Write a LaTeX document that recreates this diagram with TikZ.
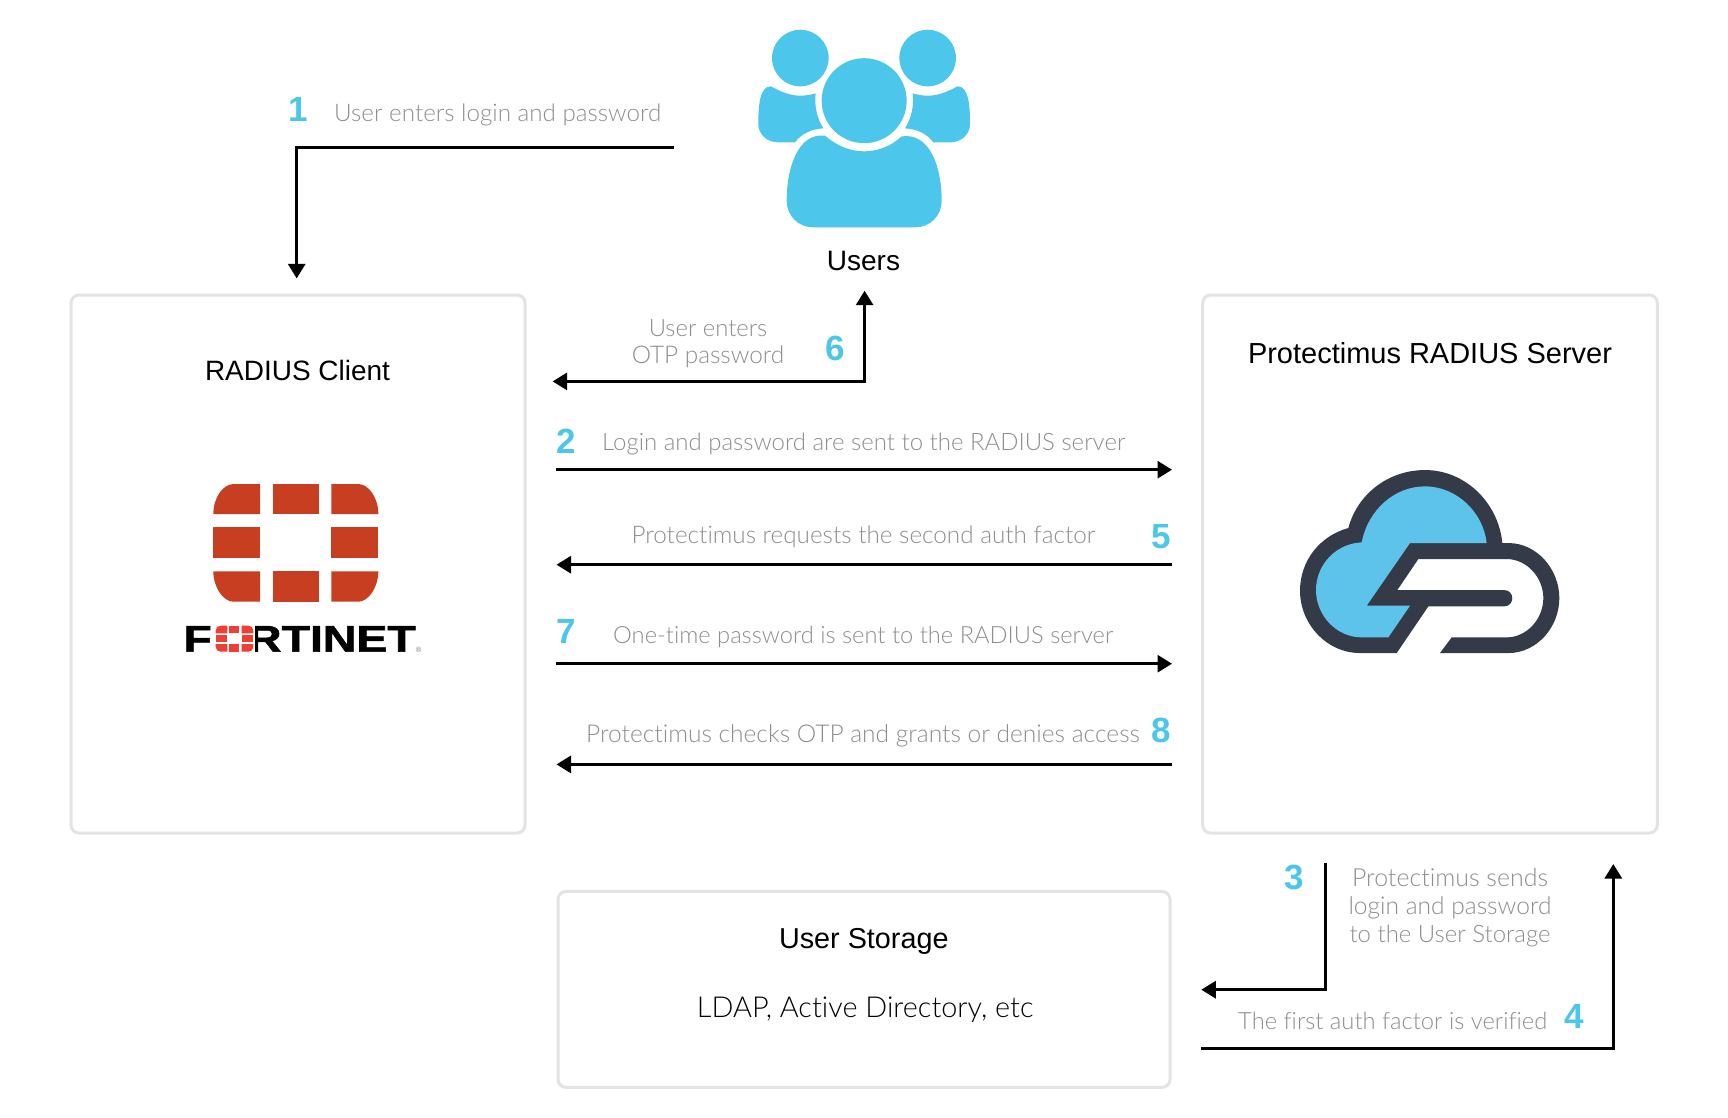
\documentclass[tikz,border=0pt]{standalone}
\usepackage{graphicx}
\usepackage{fontspec}
\usetikzlibrary{arrows.meta}
\setmainfont{Liberation Sans}
\newfontfamily\lightface[Ligatures=NoCommon]{Lato Light}
\newfontfamily\heavyface[FakeBold=1.3]{Liberation Sans Bold}
\newcommand{\fitw}[2]{\resizebox{#1pt}{!}{#2}}
\definecolor{brandblue}{HTML}{4CC6EA}
\definecolor{cloudblue}{HTML}{5DC3EA}
\definecolor{clouddark}{HTML}{353A48}
\definecolor{fortired}{HTML}{C83E20}
\definecolor{fortilight}{HTML}{EE3F34}
\definecolor{boxline}{HTML}{E5E2E2}
\definecolor{greytext}{HTML}{8E8E8E}
\tikzset{
  panel/.style={draw=boxline,line width=3pt,rounded corners=8pt,fill=white,inner sep=0pt},
  title/.style={inner sep=0pt,anchor=base,text=black,font=\fontsize{29}{34}\selectfont},
  lighttitle/.style={inner sep=0pt,anchor=base,text=black,font=\lightface\fontsize{29}{34}\selectfont},
  grey/.style={inner sep=0pt,anchor=base west,text=greytext,font=\lightface\fontsize{23.5}{27.7}\selectfont},
  greyblock/.style={inner sep=0pt,anchor=base,align=center,text=greytext,font=\lightface\fontsize{23.5}{27.7}\selectfont},
  num/.style={inner sep=0pt,anchor=base,text=brandblue,font=\bfseries\fontsize{35}{40}\selectfont},
  flow/.style={draw=black,line width=3pt,-{Triangle[length=14.5pt,width=17pt]}},
}
\begin{document}
\begin{tikzpicture}[x=1pt,y=-1pt]
\path[use as bounding box,fill=white] (0,0) rectangle (1728,1117);
\begin{scope}[yshift=-0.7pt]

% panels
\node[panel,minimum width=454pt,minimum height=538pt] (client) at (298,563.3) {};
\node[panel,minimum width=454.6pt,minimum height=538pt] (server) at (1430,563.3) {};
\node[panel,minimum width=612pt,minimum height=196pt] (storage) at (864,988.7) {};

% titles
\node[title] (tclient) at (297.5,380) {\fitw{185}{RADIUS Client}};
\node[title] (tserver) at (1430,362.7) {\fitw{364}{Protectimus RADIUS Server}};
\node[title] (tstorage) at (863.8,947.3) {\fitw{169.6}{User Storage}};
\node[lighttitle] (tldap) at (865.2,1016.7) {\fitw{336.4}{LDAP, Active Directory, etc}};
\node[title] (tusers) at (863.4,269.3) {\fitw{73.3}{Users}};

% users icon
\begin{scope}[xshift=700pt,x=0.33333pt,y=-0.33333pt]
\fill[brandblue] (301,172) circle (28.3pt);
\fill[brandblue] (683,172) circle (28.3pt);
\fill[brandblue] (492.5,300) circle (42.5pt);
\fill[brandblue] (213,257) .. controls (240,272) and (270,285) .. (301,285) .. controls (318,285) and (333,282) .. (347,278) .. controls (342,315) and (352,355) .. (370,383) .. controls (335,385) and (305,398) .. (285,425) -- (235,425) .. controls (200,425) and (175,400) .. (175,370) .. controls (175,320) and (178,255) .. (213,257) -- cycle;
\fill[brandblue] (772,257) .. controls (745,272) and (715,285) .. (684,285) .. controls (667,285) and (652,282) .. (638,278) .. controls (643,315) and (633,355) .. (615,383) .. controls (650,385) and (680,398) .. (700,425) -- (750,425) .. controls (785,425) and (810,400) .. (810,370) .. controls (810,320) and (807,255) .. (772,257) -- cycle;
\fill[brandblue] (375,405) .. controls (410,435) and (450,452) .. (492,452) .. controls (535,452) and (575,435) .. (605,407) .. controls (690,395) and (725,500) .. (725,600) .. controls (725,645) and (690,680) .. (645,680) -- (340,680) .. controls (295,680) and (260,645) .. (260,600) .. controls (260,500) and (295,395) .. (375,405) -- cycle;
\end{scope}

% fortinet mark
\begin{scope}[xshift=150pt,yshift=-440pt,x=0.33333pt,y=-0.33333pt]
\fill[fortired] (330,130) -- (330,220) -- (190,220) .. controls (190,170) and (220,130) .. (250,130) -- cycle;
\fill[fortired] (368,130) rectangle (506,220);
\fill[fortired] (544,130) -- (544,220) -- (685,220) .. controls (685,170) and (655,130) .. (625,130) -- cycle;
\fill[fortired] (190,260) rectangle (330,352);
\fill[fortired] (544,260) rectangle (685,352);
\fill[fortired] (330,392) -- (330,483) -- (250,483) .. controls (220,483) and (190,440) .. (190,392) -- cycle;
\fill[fortired] (368,392) rectangle (506,483);
\fill[fortired] (544,392) -- (544,483) -- (625,483) .. controls (655,483) and (685,440) .. (685,392) -- cycle;
\end{scope}
\node[inner sep=0pt,anchor=base west,text=black,font=\heavyface\fontsize{36}{40}\selectfont] (fortinet) at (183.3,651) {\resizebox{232.3pt}{26pt}{F\textcolor{white}{O}RTINET}};
\begin{scope}[xshift=150pt,yshift=-440pt,x=0.33333pt,y=-0.33333pt]
\fill[white] (190,550) rectangle (316,638);
\fill[fortilight] (232,555) -- (232,578) -- (197,578) -- (197,570) .. controls (197,561) and (203,555) .. (212,555) -- cycle;
\fill[fortilight] (238,555) rectangle (268,578);
\fill[fortilight] (275,555) -- (275,578) -- (310,578) -- (310,570) .. controls (310,561) and (304,555) .. (295,555) -- cycle;
\fill[fortilight] (197,583) rectangle (232,605);
\fill[fortilight] (275,583) rectangle (310,605);
\fill[fortilight] (232,633) -- (232,610) -- (197,610) -- (197,618) .. controls (197,627) and (203,633) .. (212,633) -- cycle;
\fill[fortilight] (238,610) rectangle (268,633);
\fill[fortilight] (275,633) -- (275,610) -- (310,610) -- (310,618) .. controls (310,627) and (304,633) .. (295,633) -- cycle;
\end{scope}
\node[inner sep=0pt,text=gray,font=\fontsize{7.5}{8}\selectfont] (fortireg) at (418.6,649.5) {®};

% cloud logo
\begin{scope}[xshift=1270pt,yshift=-440pt,x=0.33333pt,y=-0.33333pt]
\fill[clouddark] (380,637) -- (270,637) .. controls (170,637) and (90,550) .. (90,450) .. controls (90,360) and (150,285) .. (235,262) .. controls (262,160) and (355,88) .. (465,88) .. controls (585,88) and (685,185) .. (697,307) -- (715,307) .. controls (800,307) and (868,385) .. (868,472) .. controls (868,560) and (800,637) .. (715,637) -- (510,637) -- (545,590) -- (710,590) .. controls (770,590) and (820,535) .. (820,472) .. controls (820,410) and (770,355) .. (710,355) -- (445,355) -- (382,448) -- (702,448) .. controls (735,448) and (735,497) .. (702,497) -- (475,497) -- cycle;
\fill[cloudblue] (275,305) .. controls (295,205) and (375,137) .. (465,137) .. controls (560,137) and (640,215) .. (650,307) -- (420,307) -- (290,495) -- (420,495) -- (355,590) -- (275,590) .. controls (200,590) and (138,525) .. (138,448) .. controls (138,370) and (200,308) .. (275,305) -- cycle;
\end{scope}

% numbers
\node[num] (n1) at (298.5,121) {1};
\node[num] (n2) at (566.5,452.7) {2};
\node[num] (n3) at (1294,889) {3};
\node[num] (n4) at (1574,1028) {4};
\node[num] (n5) at (1161.7,548) {5};
\node[num] (n6) at (835.7,360) {6};
\node[num] (n7) at (566.3,643) {7};
\node[num] (n8) at (1161.3,741.7) {8};

% grey labels
\node[grey] (l1) at (334,121) {\fitw{327}{User enters login and password}};
\node[grey] (l2) at (602,449.3) {\fitw{523}{Login and password are sent to the RADIUS server}};
\node[grey] (l5) at (631.5,543) {\fitw{463.5}{Protectimus requests the second auth factor}};
\node[grey] (l7) at (613,642.7) {\fitw{500}{One-time password is sent to the RADIUS server}};
\node[grey] (l8) at (586,741.7) {\fitw{553.6}{Protectimus checks OTP and grants or denies access}};
\node[grey] (l4) at (1238,1029) {\fitw{309}{The first auth factor is verified}};
\node[greyblock] (l6) at (708,363) {\fitw{118.5}{User enters}\\\fitw{152.5}{OTP password}};
\node[greyblock] (l3) at (1450,941.5) {\fitw{196}{Protectimus sends}\\\fitw{203}{login and password}\\\fitw{201}{to the User Storage}};

% connector ends
\coordinate (a1s) at (674,146.7);
\coordinate (a1m) at (296.7,146.7);
\coordinate (a1e) at (296.7,277.7);
\coordinate (a6s) at (864.6,380.7);
\coordinate (a6e) at (552.6,380.7);
\coordinate (a6u) at (864.6,290);
\coordinate (a2s) at (556,469);
\coordinate (a2e) at (1172,469);
\coordinate (a5s) at (1172,564);
\coordinate (a5e) at (556.5,564);
\coordinate (a7s) at (556,663);
\coordinate (a7e) at (1172,663);
\coordinate (a8s) at (1172,763.7);
\coordinate (a8e) at (556.5,763.7);
\coordinate (a3s) at (1325.3,862.7);
\coordinate (a3m) at (1325.3,989);
\coordinate (a3e) at (1201.3,989);
\coordinate (a4s) at (1201,1047.3);
\coordinate (a4m) at (1613.3,1047.3);
\coordinate (a4e) at (1613.3,863.3);

% connectors
\draw[flow] (a1s) -- (a1m) -- (a1e);
\draw[flow,{Triangle[length=14.5pt,width=17pt]}-{Triangle[length=14.5pt,width=17pt]}] (a6e) -- (a6s) -- (a6u);
\draw[flow] (a2s) -- (a2e);
\draw[flow] (a5s) -- (a5e);
\draw[flow] (a7s) -- (a7e);
\draw[flow] (a8s) -- (a8e);
\draw[flow] (a3s) -- (a3m) -- (a3e);
\draw[flow] (a4s) -- (a4m) -- (a4e);
\end{scope}
\end{tikzpicture}
\end{document}
